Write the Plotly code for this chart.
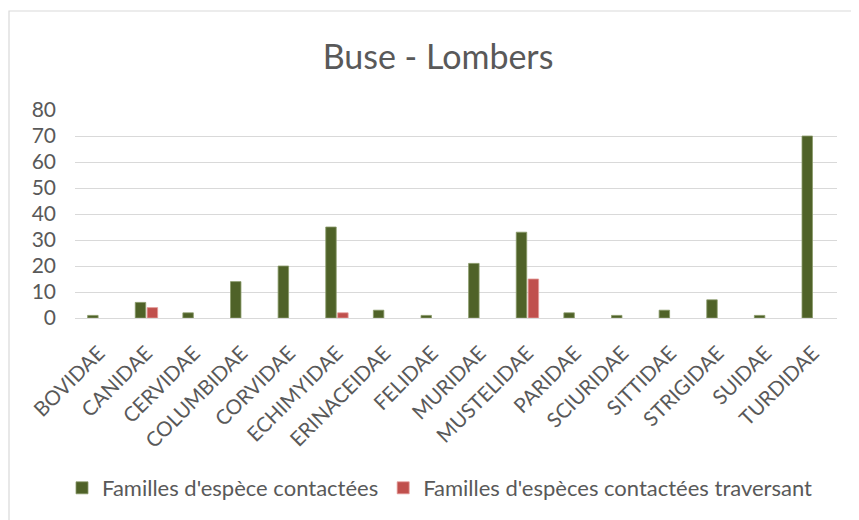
import plotly.graph_objects as go

categories = ["BOVIDAE", "CANIDAE", "CERVIDAE", "COLUMBIDAE", "CORVIDAE", "ECHIMYIDAE",
              "ERINACEIDAE", "FELIDAE", "MURIDAE", "MUSTELIDAE", "PARIDAE", "SCIURIDAE",
              "SITTIDAE", "STRIGIDAE", "SUIDAE", "TURDIDAE"]
contactees = [1, 6, 2, 14, 20, 35, 3, 1, 21, 33, 2, 1, 3, 7, 1, 70]
traversant = [None, 4, None, None, None, 2, None, None, None, 15, None, None, None, None, None, None]
y_ticks = [0, 10, 20, 30, 40, 50, 60, 70, 80]

FONT = "Lato, 'Open Sans', sans-serif"
GREY = "#595959"

# page has an 8px body margin, so the figure is laid out in shifted coordinates
W, H = 851, 512
L, R, T, B = 67, 22, 102, 202
PW, PH = W - L - R, H - T - B

fig = go.Figure()
fig.add_trace(go.Bar(
    x=categories, y=contactees, name="Familles d'espèce contactées",
    marker=dict(color="#4F6228", line=dict(color="#8A9A6A", width=0.8)),
))
fig.add_trace(go.Bar(
    x=categories, y=traversant, name="Familles d'espèces contactées traversant",
    marker=dict(color="#C0504D", line=dict(color="#E39A98", width=0.8)),
))

fig.update_layout(
    width=W, height=H,
    margin=dict(l=L, r=R, t=T, b=B, autoexpand=False),
    paper_bgcolor="white", plot_bgcolor="white",
    barmode="group", bargap=0.5, bargroupgap=0.12,
    title=dict(text="Buse - Lombers", x=(438 - 8) / W, xanchor="center", y=1 - 49 / H, yanchor="middle",
               font=dict(family=FONT, size=34, color=GREY)),
    font=dict(family=FONT, color=GREY),
    showlegend=True,
    legend=dict(orientation="h", x=(440 - 8 - L) / PW, xanchor="center", y=(310 - 480) / PH, yanchor="middle",
                font=dict(family=FONT, size=22, color=GREY), traceorder="normal"),
    shapes=[dict(type="rect", xref="paper", yref="paper",
                 x0=(1 - L) / PW, x1=(W + 10 - L) / PW,
                 y0=-2.0, y1=1 + (T - 3) / PH,
                 line=dict(color="#D9D9D9", width=1.2), fillcolor="rgba(0,0,0,0)", layer="below")],
)
fig.update_yaxes(range=[0, 80], tickvals=y_ticks, showgrid=True, gridcolor="#D9D9D9", gridwidth=1,
                 zeroline=False, showline=False, ticks="", ticklen=0, ticklabelstandoff=18,
                 tickfont=dict(family=FONT, size=21, color=GREY))
fig.update_xaxes(tickangle=-45, showline=True, linecolor="#D9D9D9", linewidth=1, ticks="",
                 ticklabelstandoff=14,
                 tickfont=dict(family=FONT, size=20.5, color=GREY))

fig.write_html("out.html")
